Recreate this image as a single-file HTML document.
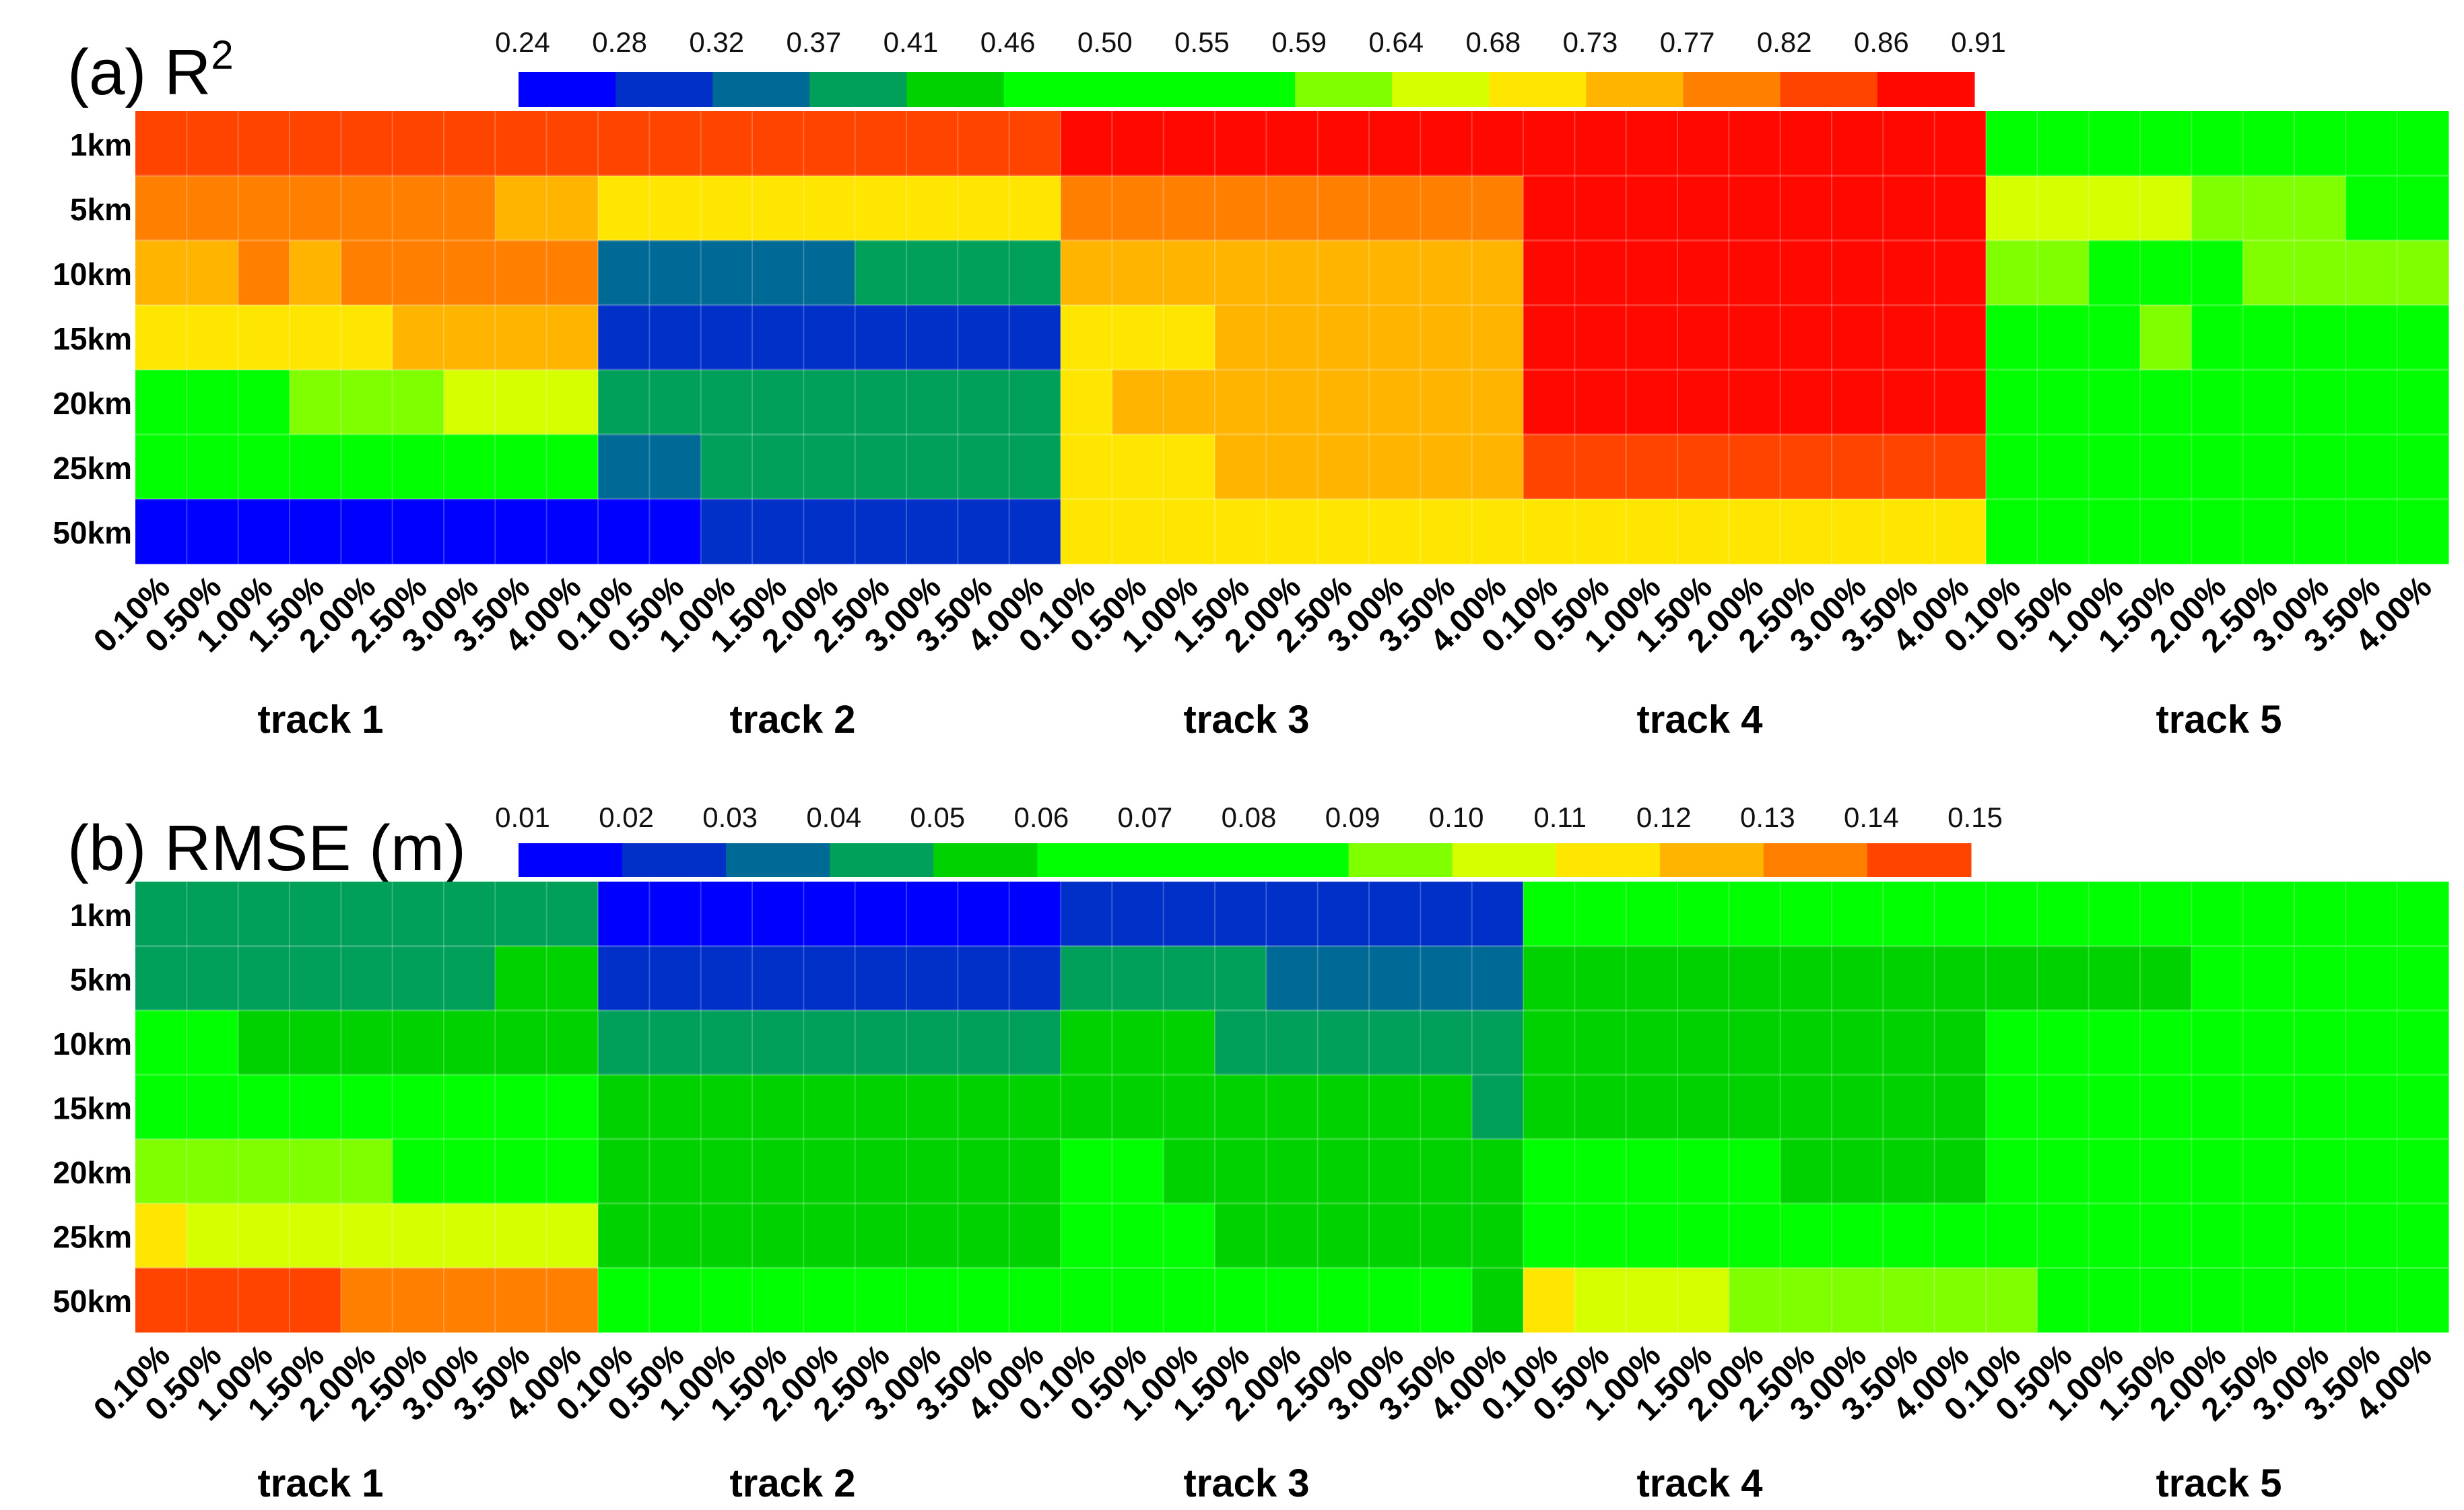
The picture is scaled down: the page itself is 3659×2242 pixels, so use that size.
<!DOCTYPE html>
<html><head><meta charset="utf-8"><style>
html,body{margin:0;padding:0;background:#fff;}
svg{display:block;}
text{font-family:"Liberation Sans",sans-serif;}
</style></head><body>
<svg id="chart" width="3659" height="2242" viewBox="0 0 3659 2242" xmlns="http://www.w3.org/2000/svg"></svg>
<script>
// ---------- data ----------
const rowLabels = ["1km","5km","10km","15km","20km","25km","50km"];
const colLabels = ["0.10%","0.50%","1.00%","1.50%","2.00%","2.50%","3.00%","3.50%","4.00%"];
const trackLabels = ["track 1","track 2","track 3","track 4","track 5"];
const ticksA = ["0.24","0.28","0.32","0.37","0.41","0.46","0.50","0.55","0.59","0.64","0.68","0.73","0.77","0.82","0.86","0.91"];
const ticksB = ["0.01","0.02","0.03","0.04","0.05","0.06","0.07","0.08","0.09","0.10","0.11","0.12","0.13","0.14","0.15"];
const palA = ["#0000ff","#0030c8","#006a96","#00a05a","#00d200","#00ff00","#00ff00","#00ff00","#80ff00","#d6ff00","#ffe600","#ffb400","#ff8000","#ff4400","#ff0800"];
const palB = ["#0000ff","#0030c8","#006a96","#00a05a","#00d200","#00ff00","#00ff00","#00ff00","#80ff00","#d6ff00","#ffe600","#ffb400","#ff8000","#ff4400"];
// R2 values (rows x 45 columns: track1..track5, 9 each)
const r2_1km  = [0.84,0.84,0.84,0.84,0.84,0.84,0.84,0.84,0.84, 0.84,0.84,0.84,0.84,0.84,0.84,0.84,0.84,0.84, 0.88,0.88,0.88,0.88,0.88,0.88,0.88,0.88,0.88, 0.88,0.88,0.88,0.88,0.88,0.88,0.88,0.88,0.88, 0.50,0.50,0.50,0.50,0.50,0.50,0.50,0.50,0.50];
const r2_5km  = [0.79,0.79,0.79,0.79,0.79,0.79,0.79,0.75,0.75, 0.70,0.70,0.70,0.70,0.70,0.70,0.70,0.70,0.70, 0.79,0.79,0.79,0.79,0.79,0.79,0.79,0.79,0.79, 0.88,0.88,0.88,0.88,0.88,0.88,0.88,0.88,0.88, 0.66,0.66,0.66,0.66,0.61,0.61,0.61,0.50,0.50];
const r2_10km = [0.75,0.75,0.79,0.75,0.79,0.79,0.79,0.79,0.79, 0.34,0.34,0.34,0.34,0.34,0.39,0.39,0.39,0.39, 0.75,0.75,0.75,0.75,0.75,0.75,0.75,0.75,0.75, 0.88,0.88,0.88,0.88,0.88,0.88,0.88,0.88,0.88, 0.61,0.61,0.50,0.50,0.50,0.61,0.61,0.61,0.61];
const r2_15km = [0.70,0.70,0.70,0.70,0.70,0.75,0.75,0.75,0.75, 0.30,0.30,0.30,0.30,0.30,0.30,0.30,0.30,0.30, 0.70,0.70,0.70,0.75,0.75,0.75,0.75,0.75,0.75, 0.88,0.88,0.88,0.88,0.88,0.88,0.88,0.88,0.88, 0.50,0.50,0.50,0.61,0.50,0.50,0.50,0.50,0.50];
const r2_20km = [0.50,0.50,0.50,0.61,0.61,0.61,0.66,0.66,0.66, 0.39,0.39,0.39,0.39,0.39,0.39,0.39,0.39,0.39, 0.70,0.75,0.75,0.75,0.75,0.75,0.75,0.75,0.75, 0.88,0.88,0.88,0.88,0.88,0.88,0.88,0.88,0.88, 0.50,0.50,0.50,0.50,0.50,0.50,0.50,0.50,0.50];
const r2_25km = [0.50,0.50,0.50,0.50,0.50,0.50,0.50,0.50,0.50, 0.34,0.34,0.39,0.39,0.39,0.39,0.39,0.39,0.39, 0.70,0.70,0.70,0.75,0.75,0.75,0.75,0.75,0.75, 0.84,0.84,0.84,0.84,0.84,0.84,0.84,0.84,0.84, 0.50,0.50,0.50,0.50,0.50,0.50,0.50,0.50,0.50];
const r2_50km = [0.26,0.26,0.26,0.26,0.26,0.26,0.26,0.26,0.26, 0.26,0.26,0.30,0.30,0.30,0.30,0.30,0.30,0.30, 0.70,0.70,0.70,0.70,0.70,0.70,0.70,0.70,0.70, 0.70,0.70,0.70,0.70,0.70,0.70,0.70,0.70,0.70, 0.50,0.50,0.50,0.50,0.50,0.50,0.50,0.50,0.50];
// RMSE values
const rm_1km  = [0.045,0.045,0.045,0.045,0.045,0.045,0.045,0.045,0.045, 0.015,0.015,0.015,0.015,0.015,0.015,0.015,0.015,0.015, 0.025,0.025,0.025,0.025,0.025,0.025,0.025,0.025,0.025, 0.07,0.07,0.07,0.07,0.07,0.07,0.07,0.07,0.07, 0.07,0.07,0.07,0.07,0.07,0.07,0.07,0.07,0.07];
const rm_5km  = [0.045,0.045,0.045,0.045,0.045,0.045,0.045,0.055,0.055, 0.025,0.025,0.025,0.025,0.025,0.025,0.025,0.025,0.025, 0.045,0.045,0.045,0.045,0.035,0.035,0.035,0.035,0.035, 0.055,0.055,0.055,0.055,0.055,0.055,0.055,0.055,0.055, 0.055,0.055,0.055,0.055,0.07,0.07,0.07,0.07,0.07];
const rm_10km = [0.07,0.07,0.055,0.055,0.055,0.055,0.055,0.055,0.055, 0.045,0.045,0.045,0.045,0.045,0.045,0.045,0.045,0.045, 0.055,0.055,0.055,0.045,0.045,0.045,0.045,0.045,0.045, 0.055,0.055,0.055,0.055,0.055,0.055,0.055,0.055,0.055, 0.07,0.07,0.07,0.07,0.07,0.07,0.07,0.07,0.07];
const rm_15km = [0.07,0.07,0.07,0.07,0.07,0.07,0.07,0.07,0.07, 0.055,0.055,0.055,0.055,0.055,0.055,0.055,0.055,0.055, 0.055,0.055,0.055,0.055,0.055,0.055,0.055,0.055,0.045, 0.055,0.055,0.055,0.055,0.055,0.055,0.055,0.055,0.055, 0.07,0.07,0.07,0.07,0.07,0.07,0.07,0.07,0.07];
const rm_20km = [0.095,0.095,0.095,0.095,0.095,0.07,0.07,0.07,0.07, 0.055,0.055,0.055,0.055,0.055,0.055,0.055,0.055,0.055, 0.07,0.07,0.055,0.055,0.055,0.055,0.055,0.055,0.055, 0.07,0.07,0.07,0.07,0.07,0.055,0.055,0.055,0.055, 0.07,0.07,0.07,0.07,0.07,0.07,0.07,0.07,0.07];
const rm_25km = [0.115,0.105,0.105,0.105,0.105,0.105,0.105,0.105,0.105, 0.055,0.055,0.055,0.055,0.055,0.055,0.055,0.055,0.055, 0.07,0.07,0.07,0.055,0.055,0.055,0.055,0.055,0.055, 0.07,0.07,0.07,0.07,0.07,0.07,0.07,0.07,0.07, 0.07,0.07,0.07,0.07,0.07,0.07,0.07,0.07,0.07];
const rm_50km = [0.145,0.145,0.145,0.145,0.135,0.135,0.135,0.135,0.135, 0.07,0.07,0.07,0.07,0.07,0.07,0.07,0.07,0.07, 0.07,0.07,0.07,0.07,0.07,0.07,0.07,0.07,0.055, 0.115,0.105,0.105,0.105,0.095,0.095,0.095,0.095,0.095, 0.095,0.07,0.07,0.07,0.07,0.07,0.07,0.07,0.07];
const r2Rows = [r2_1km,r2_5km,r2_10km,r2_15km,r2_20km,r2_25km,r2_50km];
const rmRows = [rm_1km,rm_5km,rm_10km,rm_15km,rm_20km,rm_25km,rm_50km];

// ---------- layout ----------
const NS="http://www.w3.org/2000/svg";
const svg=document.getElementById('chart');
function mk(tag,attrs,parent){const e=document.createElementNS(NS,tag);for(const k in attrs)e.setAttribute(k,attrs[k]);(parent||svg).appendChild(e);return e;}
const X0=201, X1=3636, NC=45, CW=(X1-X0)/NC;
function xCol(i){return X0+i*CW;}
function binIndex(v,ticks){const t=ticks.map(Number);for(let k=0;k<t.length-1;k++){if(v<t[k+1])return k;}return t.length-2;}

function panel(p){
  const g=mk('g',{});
  
  
  const RH=(p.y1-p.y0)/7;
  function yRow(r){return p.y0+r*RH;}
  const t=mk('text',{x:p.titleX,y:p.titleY,'font-size':96,fill:'#000'},g);
  
  
  t.textContent=p.title;
  if(p.sup){const s=mk('tspan',{'font-size':60,dy:-38},t);s.textContent=p.sup;}
  const nb=p.ticks.length-1, bw=(p.cbX1-p.cbX0)/nb;
  for(let k=0;k<nb;k++){
    const r=mk('rect',{x:p.cbX0+k*bw,y:p.cbY,width:bw+0.5,height:p.cbH,fill:p.pal[k]},g);
    
    
  }
  p.ticks.forEach((tk,k)=>{
    const tx=mk('text',{x:p.cbX0+k*bw+6,y:p.cbTickY,'font-size':42,'text-anchor':'middle',fill:'#111'},g);
    
    
    tx.textContent=tk;
  });
  p.rows.forEach((row,r)=>{
    row.forEach((v,c)=>{
      const cell=mk('rect',{x:xCol(c),y:yRow(r),width:CW+0.5,height:RH+0.5,fill:p.pal[binIndex(v,p.ticks)]},g);
      
      
    });
  });
  for(let c=1;c<NC;c++) mk('line',{x1:xCol(c),x2:xCol(c),y1:p.y0,y2:p.y1,stroke:'#fff','stroke-opacity':0.22,'stroke-width':2},g);
  for(let r=1;r<7;r++) mk('line',{x1:X0,x2:X1,y1:yRow(r),y2:yRow(r),stroke:'#fff','stroke-opacity':0.22,'stroke-width':3},g);
  rowLabels.forEach((lb,r)=>{
    const tx=mk('text',{x:196,y:yRow(r)+RH/2+18,'font-size':46,'font-weight':'bold','text-anchor':'end',fill:'#000'},g);
    
    
    tx.textContent=lb;
  });
  for(let c=0;c<NC;c++){
    const cx=xCol(c)+CW/2+16, cy=p.y1+38;
    const tx=mk('text',{x:cx,y:cy,'font-size':48,'font-weight':'bold','text-anchor':'end',fill:'#000',transform:`rotate(-45 ${cx} ${cy})`},g);
    
    
    tx.textContent=colLabels[c%9];
  }
  const tcx=[476,1177,1851,2524,3295];
  trackLabels.forEach((lb,i)=>{
    const tx=mk('text',{x:tcx[i],y:p.trackY,'font-size':58,'font-weight':'bold','text-anchor':'middle',fill:'#000'},g);
    
    
    tx.textContent=lb;
  });
}
panel({name:'panel-a-r2',title:'(a) R',sup:'2',titleX:100,titleY:140,ticks:ticksA,pal:palA,cbX0:770,cbX1:2932,cbY:107,cbH:52,cbTickY:77,y0:165,y1:837,rows:r2Rows,trackY:1088});
panel({name:'panel-b-rmse',title:'(b) RMSE (m)',sup:null,titleX:100,titleY:1292,ticks:ticksB,pal:palB,cbX0:770,cbX1:2927,cbY:1252,cbH:50,cbTickY:1228,y0:1309,y1:1978,rows:rmRows,trackY:2222});
</script>
</body></html>
